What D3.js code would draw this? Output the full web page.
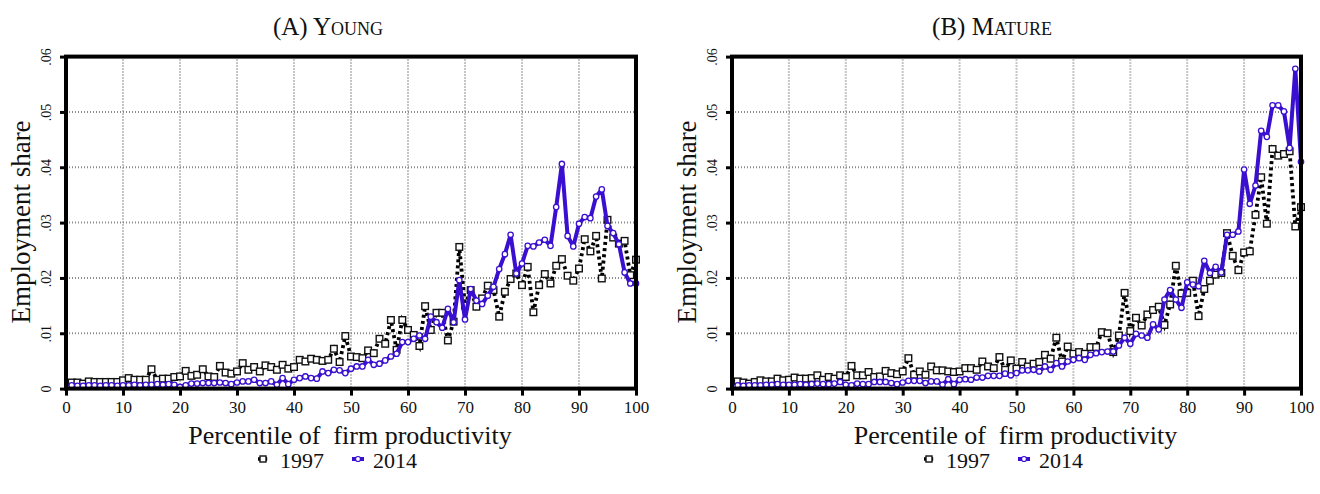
<!DOCTYPE html>
<html>
<head>
<meta charset="utf-8">
<script src="https://cdn.jsdelivr.net/npm/d3@7"></script>
<style>
  html, body { margin: 0; padding: 0; background: #fff; }
  svg { display: block; }
  text { font-family: "Liberation Serif", "DejaVu Serif", serif; fill: #111; }
</style>
</head>
<body>
<svg id="chart" width="1320" height="494"></svg>
<script>
// ---------------- data ----------------
const percentiles = d3.range(1, 101);
const seriesNames = ["1997", "2014"];
const panelTitles = ["(A) Young", "(B) Mature"];
const xTicks = [0, 10, 20, 30, 40, 50, 60, 70, 80, 90, 100];
const yTicks = [0, 0.01, 0.02, 0.03, 0.04, 0.05, 0.06];
const yTickLabels = ["0", ".01", ".02", ".03", ".04", ".05", ".06"];
const xTitle = "Percentile of  firm productivity";
const yTitle = "Employment share";

const young1997 = [
  0.0011, 0.0011, 0.0009, 0.0013, 0.0012, 0.0012, 0.0012, 0.0012, 0.0012, 0.0015,
  0.0019, 0.0016, 0.0016, 0.0016, 0.0035, 0.0016, 0.0018, 0.0018, 0.0021, 0.0022,
  0.0032, 0.0023, 0.0025, 0.0035, 0.0022, 0.0021, 0.0041, 0.0029, 0.0027, 0.0031,
  0.0046, 0.0034, 0.0039, 0.0031, 0.0042, 0.0039, 0.0034, 0.0043, 0.0036, 0.0039,
  0.0052, 0.0049, 0.0054, 0.0052, 0.0050, 0.0052, 0.0072, 0.0048, 0.0095, 0.0058,
  0.0057, 0.0055, 0.0069, 0.0064, 0.0090, 0.0081, 0.0124, 0.0070, 0.0124, 0.0106,
  0.0097, 0.0077, 0.0149, 0.0106, 0.0137, 0.0137, 0.0087, 0.0121, 0.0256, 0.0150,
  0.0178, 0.0148, 0.0163, 0.0186, 0.0178, 0.0130, 0.0175, 0.0198, 0.0208, 0.0187,
  0.0220, 0.0138, 0.0187, 0.0207, 0.0190, 0.0222, 0.0234, 0.0204, 0.0195, 0.0217,
  0.0270, 0.0248, 0.0276, 0.0199, 0.0305, 0.0273, 0.0262, 0.0267, 0.0205, 0.0233
];
const young2014 = [
  0.0006, 0.0005, 0.0005, 0.0006, 0.0006, 0.0005, 0.0006, 0.0006, 0.0005, 0.0006,
  0.0006, 0.0007, 0.0006, 0.0007, 0.0007, 0.0008, 0.0007, 0.0008, 0.0007, 0.0003,
  0.0006, 0.0009, 0.0009, 0.0010, 0.0010, 0.0010, 0.0011, 0.0010, 0.0008, 0.0011,
  0.0013, 0.0013, 0.0016, 0.0010, 0.0010, 0.0013, 0.0007, 0.0019, 0.0008, 0.0016,
  0.0019, 0.0022, 0.0019, 0.0018, 0.0031, 0.0028, 0.0034, 0.0033, 0.0028, 0.0036,
  0.0040, 0.0040, 0.0052, 0.0043, 0.0045, 0.0051, 0.0058, 0.0063, 0.0084, 0.0084,
  0.0090, 0.0096, 0.0090, 0.0130, 0.0120, 0.0110, 0.0144, 0.0120, 0.0196, 0.0125,
  0.0180, 0.0159, 0.0153, 0.0168, 0.0184, 0.0216, 0.0243, 0.0278, 0.0208, 0.0226,
  0.0258, 0.0257, 0.0264, 0.0269, 0.0258, 0.0328, 0.0406, 0.0276, 0.0257, 0.0298,
  0.0310, 0.0308, 0.0347, 0.0360, 0.0294, 0.0281, 0.0261, 0.0210, 0.0190, 0.0190
];
const mature1997 = [
  0.0013, 0.0011, 0.0009, 0.0012, 0.0015, 0.0013, 0.0013, 0.0018, 0.0015, 0.0016,
  0.0020, 0.0018, 0.0018, 0.0019, 0.0024, 0.0016, 0.0021, 0.0018, 0.0024, 0.0021,
  0.0041, 0.0024, 0.0024, 0.0030, 0.0021, 0.0022, 0.0032, 0.0028, 0.0026, 0.0031,
  0.0055, 0.0025, 0.0031, 0.0025, 0.0040, 0.0033, 0.0033, 0.0031, 0.0030, 0.0031,
  0.0037, 0.0037, 0.0034, 0.0049, 0.0040, 0.0037, 0.0057, 0.0034, 0.0051, 0.0036,
  0.0048, 0.0040, 0.0045, 0.0048, 0.0061, 0.0054, 0.0092, 0.0049, 0.0076, 0.0063,
  0.0066, 0.0063, 0.0075, 0.0075, 0.0102, 0.0100, 0.0066, 0.0096, 0.0173, 0.0104,
  0.0128, 0.0114, 0.0134, 0.0142, 0.0148, 0.0115, 0.0152, 0.0222, 0.0172, 0.0173,
  0.0195, 0.0131, 0.0180, 0.0195, 0.0206, 0.0209, 0.0281, 0.0240, 0.0214, 0.0246,
  0.0248, 0.0314, 0.0382, 0.0298, 0.0433, 0.0421, 0.0424, 0.0429, 0.0293, 0.0328
];
const mature2014 = [
  0.0006, 0.0005, 0.0006, 0.0006, 0.0006, 0.0007, 0.0007, 0.0008, 0.0007, 0.0007,
  0.0007, 0.0008, 0.0007, 0.0008, 0.0009, 0.0008, 0.0008, 0.0009, 0.0012, 0.0007,
  0.0006, 0.0009, 0.0008, 0.0008, 0.0012, 0.0012, 0.0012, 0.0010, 0.0008, 0.0011,
  0.0014, 0.0014, 0.0014, 0.0010, 0.0013, 0.0013, 0.0007, 0.0017, 0.0008, 0.0016,
  0.0017, 0.0016, 0.0020, 0.0020, 0.0023, 0.0023, 0.0023, 0.0027, 0.0024, 0.0028,
  0.0033, 0.0033, 0.0034, 0.0031, 0.0040, 0.0034, 0.0046, 0.0040, 0.0049, 0.0052,
  0.0055, 0.0052, 0.0061, 0.0064, 0.0066, 0.0067, 0.0067, 0.0078, 0.0092, 0.0081,
  0.0099, 0.0096, 0.0092, 0.0116, 0.0107, 0.0161, 0.0178, 0.0161, 0.0146, 0.0192,
  0.0188, 0.0185, 0.0231, 0.0209, 0.0220, 0.0210, 0.0278, 0.0278, 0.0284, 0.0396,
  0.0334, 0.0367, 0.0466, 0.0455, 0.0512, 0.0512, 0.0501, 0.0435, 0.0578, 0.0410
];

// ---------------- drawing ----------------
const svg = d3.select("#chart");
const BLUE = "#3a0fd0";
const SERIF = "Liberation Serif";

function drawPanel(cfg) {
  const x = d3.scaleLinear().domain([0, 100]).range([cfg.x0, cfg.x1]);
  const y = d3.scaleLinear().domain([0, 0.06]).range([388.6, 56.6]);
  const g = svg.append("g");

  // grid
  g.append("g").selectAll("line").data(xTicks.slice(1, -1)).join("line")
    .attr("x1", d => x(d)).attr("x2", d => x(d))
    .attr("y1", y(0.06)).attr("y2", y(0))
    .attr("stroke", "#8c8c8c").attr("stroke-width", 2).attr("stroke-dasharray", "1,2");
  g.append("g").selectAll("line").data(yTicks.slice(1, -1)).join("line")
    .attr("x1", x(0)).attr("x2", x(100))
    .attr("y1", d => y(d)).attr("y2", d => y(d))
    .attr("stroke", "#8c8c8c").attr("stroke-width", 2).attr("stroke-dasharray", "1,2");

  // 1997 series
  const line = d3.line().x((d, i) => x(percentiles[i])).y(d => y(d));
  g.append("path").datum(cfg.s1997).attr("d", line)
    .attr("fill", "none").attr("stroke", "#000").attr("stroke-width", 3.8)
    .attr("stroke-dasharray", "3,3.2");
  g.append("g").selectAll("rect").data(cfg.s1997).join("rect")
    .attr("x", (d, i) => x(percentiles[i]) - 3.3).attr("y", d => y(d) - 3.3)
    .attr("width", 6.6).attr("height", 6.6)
    .attr("fill", "#fff").attr("stroke", "#111").attr("stroke-width", 1.4);

  // 2014 series
  g.append("path").datum(cfg.s2014).attr("d", line)
    .attr("fill", "none").attr("stroke", BLUE).attr("stroke-width", 4)
    .attr("stroke-linejoin", "round");
  g.append("g").selectAll("circle").data(cfg.s2014).join("circle")
    .attr("cx", (d, i) => x(percentiles[i])).attr("cy", d => y(d)).attr("r", 2.7)
    .attr("fill", "#fff").attr("stroke", BLUE).attr("stroke-width", 1.3);

  // frame
  g.append("rect").attr("x", x(0)).attr("y", y(0.06))
    .attr("width", x(100) - x(0)).attr("height", y(0) - y(0.06))
    .attr("fill", "none").attr("stroke", "#000").attr("stroke-width", 4);

  // axes
  const yAxis = d3.axisLeft(y).tickValues(yTicks).tickSize(6).tickPadding(10)
    .tickFormat((d, i) => yTickLabels[i]);
  const ya = g.append("g").attr("transform", `translate(${x(0)},0)`).call(yAxis);
  ya.select(".domain").remove();
  ya.selectAll(".tick line").attr("stroke", "#000").attr("stroke-width", 3);
  ya.selectAll(".tick text")
    .attr("font-family", SERIF).attr("font-size", 14).attr("fill", "#111")
    .attr("x", null).attr("dy", null)
    .attr("text-anchor", "middle")
    .attr("transform", "translate(-15,0) rotate(-90)");

  const xAxis = d3.axisBottom(x).tickValues(xTicks).tickSize(7).tickPadding(5);
  const xa = g.append("g").attr("transform", `translate(0,${y(0)})`).call(xAxis);
  xa.select(".domain").remove();
  xa.selectAll(".tick line").attr("stroke", "#000").attr("stroke-width", 3);
  xa.selectAll(".tick text")
    .attr("font-family", SERIF).attr("font-size", 17).attr("fill", "#111");

  // titles
  g.append("text").attr("x", cfg.titleX).attr("y", 35).attr("text-anchor", "middle")
    .attr("font-family", SERIF)
    .attr("font-size", 25).style("font-variant", "small-caps").text(cfg.title);
  g.append("text").attr("transform", `translate(${cfg.yTitleX},222) rotate(-90)`)
    .attr("font-family", SERIF)
    .attr("text-anchor", "middle").attr("font-size", 27).text(yTitle);
  g.append("text").attr("x", (x(0) + x(100)) / 2 - 1).attr("y", 444)
    .attr("font-family", SERIF)
    .attr("text-anchor", "middle").attr("font-size", 26)
    .style("white-space", "pre").text(xTitle);

  // legend
  const lg = g.append("g");
  const lx = cfg.legendX;
  lg.append("line").attr("x1", lx - 5).attr("x2", lx + 5).attr("y1", 459).attr("y2", 459)
    .attr("stroke", "#000").attr("stroke-width", 3.6).attr("stroke-dasharray", "3,3.2");
  lg.append("rect").attr("x", lx - 3).attr("y", 456).attr("width", 6).attr("height", 6)
    .attr("fill", "#fff").attr("stroke", "#111").attr("stroke-width", 1.4);
  lg.append("text").attr("x", lx + 17).attr("y", 468).attr("font-family", SERIF)
    .attr("font-size", 22).text(seriesNames[0]);
  const bx = lx + 95;
  lg.append("line").attr("x1", bx - 6).attr("x2", bx + 6).attr("y1", 459).attr("y2", 459)
    .attr("stroke", BLUE).attr("stroke-width", 4);
  lg.append("circle").attr("cx", bx).attr("cy", 459).attr("r", 2.5)
    .attr("fill", "#fff").attr("stroke", BLUE).attr("stroke-width", 1.2);
  lg.append("text").attr("x", bx + 15).attr("y", 468).attr("font-family", SERIF)
    .attr("font-size", 22).text(seriesNames[1]);
}

drawPanel({ x0: 66, x1: 636, s1997: young1997, s2014: young2014, title: panelTitles[0],
  titleX: 328, yTitleX: 30, legendX: 263 });
drawPanel({ x0: 732, x1: 1301, s1997: mature1997, s2014: mature2014, title: panelTitles[1],
  titleX: 992, yTitleX: 696, legendX: 929 });
</script>
</body>
</html>
